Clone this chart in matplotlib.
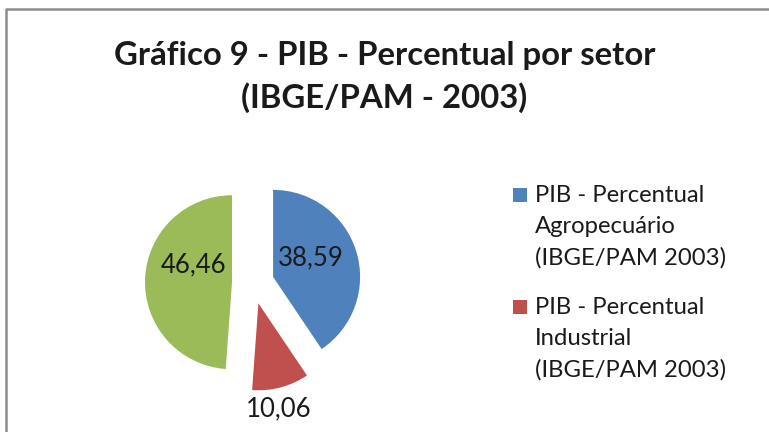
import matplotlib.pyplot as plt
from matplotlib.patches import Rectangle
import numpy as np

# data
setores = ["PIB - Percentual\nAgropecuário\n(IBGE/PAM 2003)",
           "PIB - Percentual\nIndustrial\n(IBGE/PAM 2003)",
           "PIB - Percentual\nServiços\n(IBGE/PAM 2003)"]
valores = [38.59, 10.06, 46.46]
cores = ["#4F81BD", "#C0504D", "#9BBB59"]

# label placement (angle in degrees relative to wedge vertex, distance in px)
label_ang = [27, -79, 156]
label_dist = [42, 108, 42]

plt.rcParams['font.family'] = ['Lato', 'DejaVu Sans']

W, H = 769, 432
fig = plt.figure(figsize=(W / 100, H / 100), dpi=100)
ax = fig.add_axes([0, 0, 1, 1])
ax.set_xlim(0, W)
ax.set_ylim(0, H)
ax.set_aspect('equal')
ax.axis('off')

# chart border (only top and left visible, the rest is cropped)
ax.plot([6, 6, W], [0, H - 9, H - 9], color="#8C8C8C", lw=1.8, solid_capstyle='butt')

wedges, _ = ax.pie(valores, colors=cores, startangle=90, counterclock=False,
                   center=(253, H - 283), radius=87, explode=[21] * 3,
                   wedgeprops=dict(linewidth=0))
ax.set_xlim(0, W)
ax.set_ylim(0, H)

for w, v, a, d in zip(wedges, valores, label_ang, label_dist):
    cx, cy = w.center
    tx = cx + d * np.cos(np.radians(a))
    ty = cy + d * np.sin(np.radians(a))
    ax.text(tx, ty, f"{v:.2f}".replace(".", ","), ha='center', va='center',
            fontsize=18.5, color="#1a1a1a")

# title
ax.text(W / 2, H - 56, "Gráfico 9 - PIB - Percentual por setor", ha='center', va='center',
        fontsize=23.7, fontweight='bold', color="#1a1a1a")
ax.text(W / 2, H - 98, "(IBGE/PAM - 2003)", ha='center', va='center',
        fontsize=23.7, fontweight='bold', color="#1a1a1a")

# legend (only the first two entries fit inside the chart area)
leg_y = [195, 307]
for nome, cor, y in zip(setores[:2], cores[:2], leg_y):
    ax.add_patch(Rectangle((513, H - y - 7), 14, 14, color=cor, lw=0))
    for i, linha in enumerate(nome.split("\n")):
        ax.text(535, H - y - i * 31.5, linha, ha='left', va='center',
                fontsize=17.2, color="#1a1a1a")

fig.savefig("out.png", dpi=100)
